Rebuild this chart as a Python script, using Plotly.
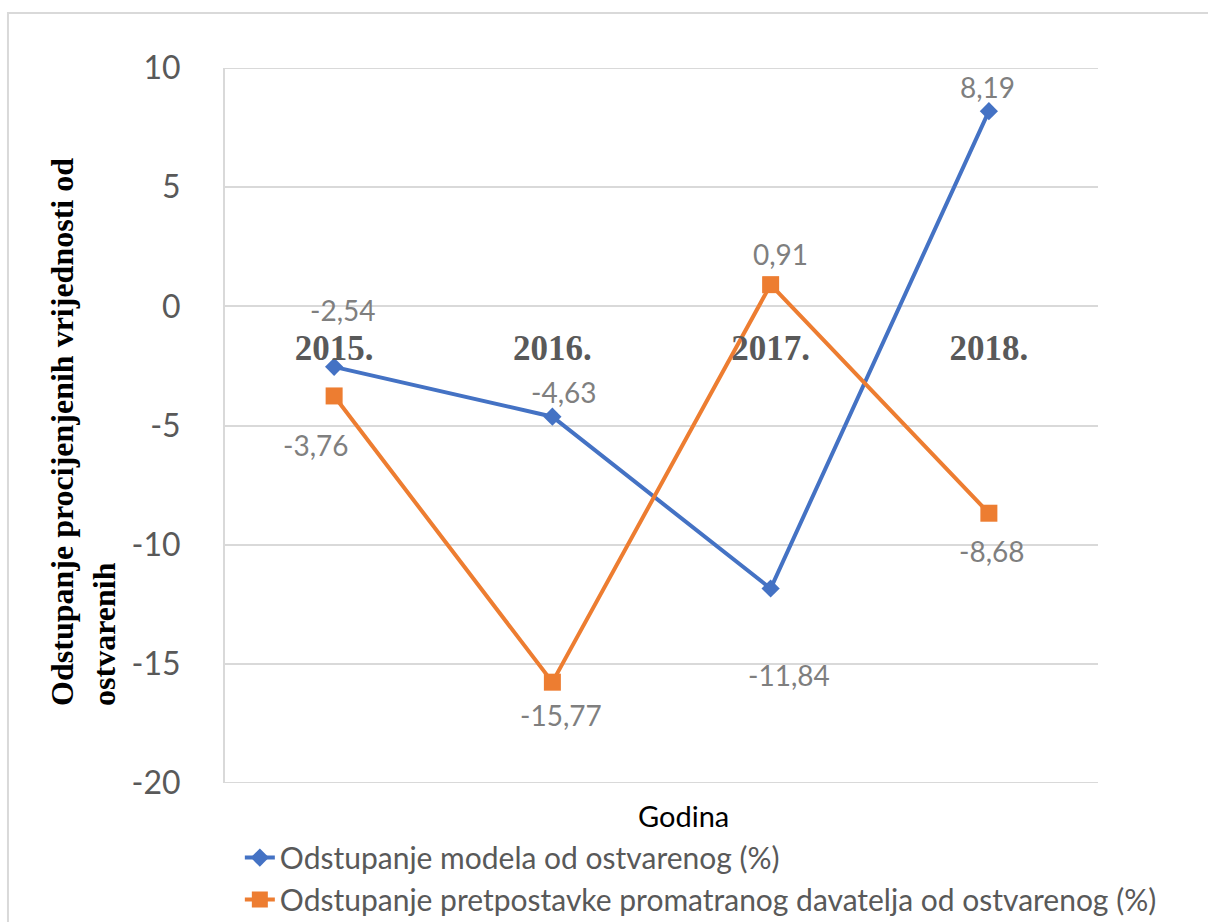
import plotly.graph_objects as go

# Yearly deviation of estimated values from realised values (%)
years = ["2015.", "2016.", "2017.", "2018."]
model_dev = [-2.54, -4.63, -11.84, 8.19]
provider_dev = [-3.76, -15.77, 0.91, -8.68]

series_names = [
    "Odstupanje modela od ostvarenog (%)",
    "Odstupanje pretpostavke promatranog davatelja od ostvarenog (%)",
]
y_ticks = [10, 5, 0, -5, -10, -15, -20]

BLUE = "#4472C4"
ORANGE = "#ED7D31"
GRID = "#d9d9d9"
SANS = "Lato, 'Open Sans', sans-serif"
SERIF = "'Liberation Serif', 'Times New Roman', serif"

# label offsets in pixels (xshift, yshift) for each point
model_offsets = [(8, 57), (11, 25), (18, -86), (-1, 24)]
provider_offsets = [(-19, -49), (9, -33), (10, 31), (3, -38)]


def fmt(v):
    return f"{v:.2f}".replace(".", ",")


fig = go.Figure()
fig.add_trace(go.Scatter(
    x=years, y=model_dev, name=series_names[0], mode="lines+markers",
    line=dict(color=BLUE, width=4),
    marker=dict(symbol="diamond", size=14, color=BLUE, line=dict(width=0)),
))
fig.add_trace(go.Scatter(
    x=years, y=provider_dev, name=series_names[1], mode="lines+markers",
    line=dict(color=ORANGE, width=4),
    marker=dict(symbol="square", size=17, color=ORANGE, line=dict(width=0)),
))

annotations = []
for vals, offs in ((model_dev, model_offsets), (provider_dev, provider_offsets)):
    # category axes take the serial index of each category
    for idx, (v, (dx, dy)) in enumerate(zip(vals, offs)):
        annotations.append(dict(
            x=idx, y=v, xref="x", yref="y", text=fmt(v), showarrow=False,
            xshift=dx, yshift=dy, font=dict(family=SANS, size=28, color="#7f7f7f"),
        ))

# axis titles
annotations.append(dict(
    x=0.525, y=-0.045, xref="paper", yref="paper", text="Godina", showarrow=False,
    xanchor="center", yanchor="middle", font=dict(family=SANS, size=29, color="#000000"),
))
annotations.append(dict(
    x=-0.1627, y=0.491, xref="paper", yref="paper",
    text="Odstupanje procijenjenih vrijednosti od<br>ostvarenih",
    showarrow=False, textangle=-90, align="left", xanchor="center", yanchor="middle",
    font=dict(family=SERIF, size=32, color="#000000", weight="bold"),
))

# gridlines at the two ends of the value range (not drawn by the axis itself)
shapes = [
    dict(type="line", xref="paper", yref="y", x0=0, x1=1, y0=t, y1=t,
         line=dict(color=GRID, width=2), layer="below")
    for t in (y_ticks[0], y_ticks[-1])
]
# chart frame
shapes.append(dict(
    type="rect", xref="paper", yref="paper",
    x0=-0.2486, x1=1.2, y0=-0.3, y1=1.0769,
    line=dict(color=GRID, width=2), fillcolor="rgba(0,0,0,0)", layer="below",
))

fig.update_layout(
    width=1208, height=922,
    margin=dict(l=225, r=110, t=68, b=139, autoexpand=False),
    paper_bgcolor="white", plot_bgcolor="white",
    showlegend=True,
    legend=dict(
        x=0.017, y=-0.068, xanchor="left", yanchor="top", orientation="v",
        font=dict(family=SANS, size=30, color="#595959"),
        bgcolor="rgba(0,0,0,0)", tracegroupgap=0,
    ),
    xaxis=dict(
        type="category", categoryorder="array", categoryarray=years,
        range=[-0.5, 3.5], anchor="free", position=2 / 3,
        showline=False, showgrid=False, zeroline=False, ticks="",
        ticklabelstandoff=18,
        tickfont=dict(family=SERIF, size=35, color="#595959", weight="bold"),
    ),
    yaxis=dict(
        range=[-20, 10], tickvals=y_ticks, ticktext=[str(t) for t in y_ticks],
        showgrid=True, gridcolor=GRID, gridwidth=2,
        zeroline=False, showline=True, linecolor=GRID, linewidth=2,
        ticks="", ticklabelstandoff=36,
        tickfont=dict(family=SANS, size=32, color="#595959"),
    ),
    annotations=annotations,
    shapes=shapes,
)

fig.write_html("out.html")
